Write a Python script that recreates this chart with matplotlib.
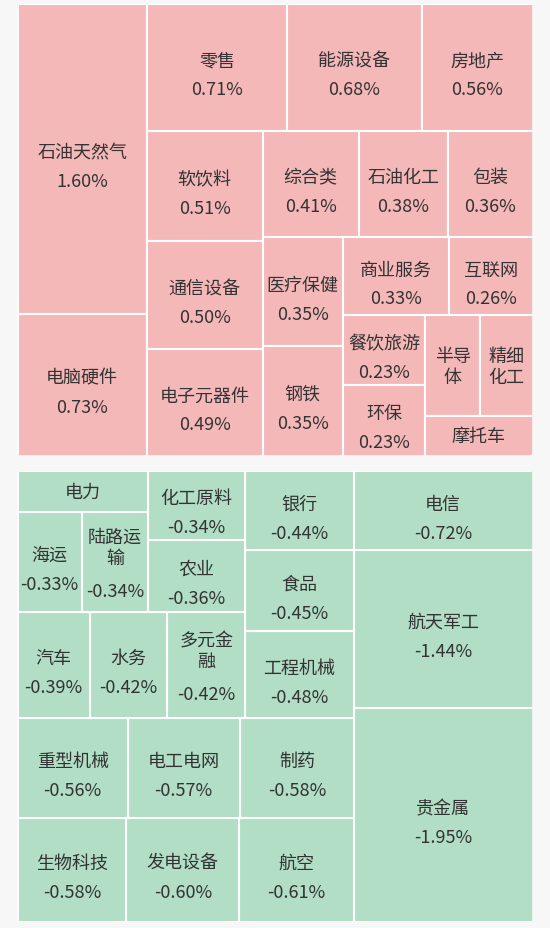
import matplotlib
matplotlib.use("Agg")
import matplotlib.pyplot as plt
from matplotlib.patches import Rectangle, FancyBboxPatch

plt.rcParams['font.family'] = ['Noto Sans CJK SC', 'DejaVu Sans']

# ---------------- data ----------------
gain_names = ['石油天然气', '电脑硬件', '零售', '能源设备', '房地产', '软饮料', '通信设备',
              '电子元器件', '综合类', '石油化工', '包装', '医疗保健', '钢铁', '商业服务',
              '互联网', '餐饮旅游', '环保', '半导体', '精细化工', '摩托车']
gain_values = [1.60, 0.73, 0.71, 0.68, 0.56, 0.51, 0.50, 0.49, 0.41, 0.38, 0.36, 0.35,
               0.35, 0.33, 0.26, 0.23, 0.23, 0.22, 0.21, 0.17]

loss_names = ['贵金属', '航天军工', '电信', '航空', '发电设备', '生物科技', '制药', '电工电网',
              '重型机械', '工程机械', '食品', '银行', '多元金融', '水务', '汽车', '农业',
              '化工原料', '陆路运输', '海运', '电力']
loss_values = [-1.95, -1.44, -0.72, -0.61, -0.60, -0.58, -0.58, -0.57, -0.56, -0.48,
               -0.45, -0.44, -0.42, -0.42, -0.39, -0.36, -0.34, -0.34, -0.33, -0.27]

# row grouping of the squarified layout (items per strip, largest first)
gain_rows = [2, 3, 3, 3, 2, 2, 2, 2, 1]
loss_rows = [3, 3, 3, 3, 3, 2, 2, 1]

# ---------------- style ----------------
W, H = 550, 929
BG = '#F7F7F7'
GAIN_COLOR = '#F4B8B9'
LOSS_COLOR = '#B1DEC4'
TEXT_COLOR = '#333333'
FONT_SIZE = 13
CHAR_W = 18.2
PAD = 3.0

PANEL_X = (17.5, 532.5)
GAIN_Y = (5.0, 456.5)
LOSS_Y = (472.0, 923.0)


def strip_layout(values, rows, x, y, w, h):
    """Squarified-style strip layout: each strip runs along the shorter side."""
    order = sorted(range(len(values)), key=lambda i: -abs(values[i]))
    total = sum(abs(v) for v in values)
    areas = {i: abs(values[i]) / total * w * h for i in order}
    rect = {'x': x, 'y': y, 'w': w, 'h': h}
    out = {}
    pos = 0
    for r_i, cnt in enumerate(rows):
        row = order[pos:pos + cnt]
        pos += cnt
        flush = (r_i == len(rows) - 1)
        row_area = sum(areas[i] for i in row)
        horiz = rect['w'] <= rect['h']
        fixed = rect['w'] if horiz else rect['h']
        other = row_area / fixed
        avail = rect['h'] if horiz else rect['w']
        if flush or other > avail:
            other = avail
        last = rect['x'] if horiz else rect['y']
        end = (rect['x'] + rect['w']) if horiz else (rect['y'] + rect['h'])
        for k, i in enumerate(row):
            step = areas[i] / other
            mod = (end - last) if k == len(row) - 1 else step
            if horiz:
                out[i] = (last, rect['y'], mod, other)
            else:
                out[i] = (rect['x'], last, other, mod)
            last += mod
        if horiz:
            rect['y'] += other
            rect['h'] -= other
        else:
            rect['x'] += other
            rect['w'] -= other
    return out


def wrap_name(name, w):
    per = max(1, int((w - 2 * PAD) // CHAR_W))
    return [name[i:i + per] for i in range(0, len(name), per)]


fig = plt.figure(figsize=(W / 100, H / 100), dpi=100, facecolor=BG)
ax = fig.add_axes([0, 0, 1, 1])
ax.set_xlim(0, W)
ax.set_ylim(H, 0)
ax.axis('off')
ax.set_facecolor(BG)


def draw_panel(names, values, rows, ys, color, mirror):
    x0, x1 = PANEL_X
    y0, y1 = ys
    clip = FancyBboxPatch((x0, y0), x1 - x0, y1 - y0,
                          boxstyle='round,pad=0,rounding_size=3',
                          facecolor='none', edgecolor='none', transform=ax.transData)
    ax.add_patch(clip)
    lay = strip_layout(values, rows, x0, y0, x1 - x0, y1 - y0)
    for i, (x, y, w, h) in lay.items():
        if mirror:
            x = x0 + x1 - (x + w)
            y = y0 + y1 - (y + h)
        r = Rectangle((x, y), w, h, facecolor=color, edgecolor='white', linewidth=1.5)
        ax.add_patch(r)
        r.set_clip_path(clip)
        cx, cy = x + w / 2, y + h / 2
        lines = wrap_name(names[i], w)
        n = len(lines)
        show_val = (w >= 60) and (h >= 21 * n + 30)
        if show_val:
            if n == 1:
                ys_ = [cy - 7]
                vy = cy + 22
            else:
                first = cy - 25
                ys_ = [first + 21 * j for j in range(n)]
                vy = ys_[-1] + 33
        else:
            ys_ = [cy + 0.5 - 21 * (n - 1) / 2 + 21 * j for j in range(n)]
        for ln, yy in zip(lines, ys_):
            ax.text(cx, yy, ln, ha='center', va='center', fontsize=FONT_SIZE, color=TEXT_COLOR)
        if show_val:
            ax.text(cx, vy, f'{values[i]:.2f}%', ha='center', va='center',
                    fontsize=FONT_SIZE, color=TEXT_COLOR)


draw_panel(gain_names, gain_values, gain_rows, GAIN_Y, GAIN_COLOR, False)
draw_panel(loss_names, loss_values, loss_rows, LOSS_Y, LOSS_COLOR, True)

fig.savefig('out.png', dpi=100, facecolor=BG)
